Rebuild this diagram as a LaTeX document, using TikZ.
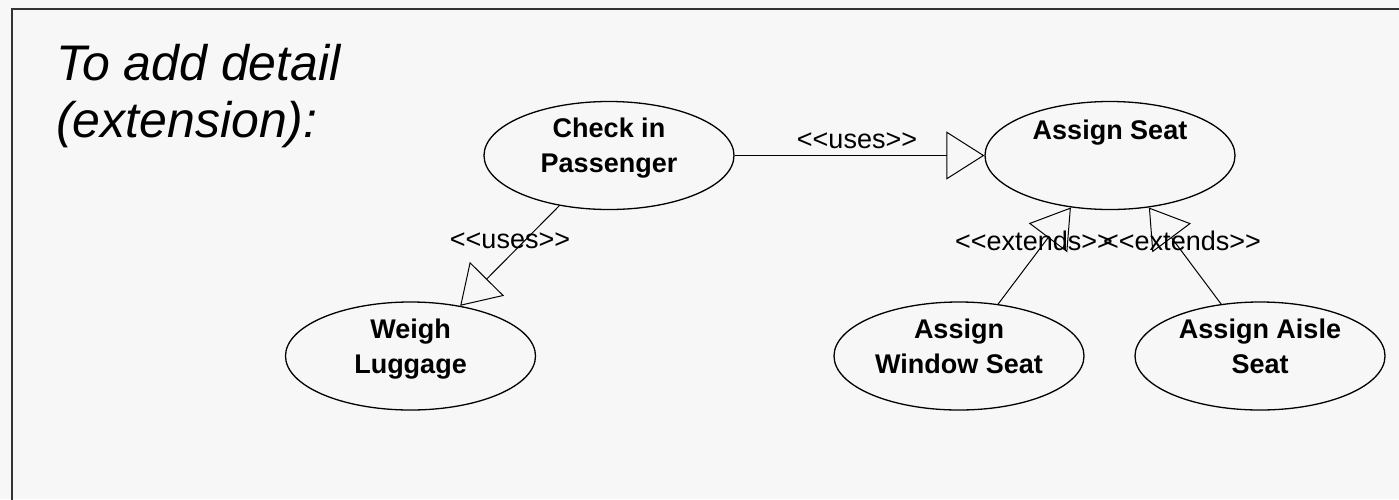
\documentclass[tikz,border=0pt]{standalone}
\usepackage{fontspec}
\setmainfont{Liberation Sans}
\usetikzlibrary{arrows.meta,shapes.geometric}
\definecolor{paper}{HTML}{F7F7F7}
\definecolor{framegray}{HTML}{333333}
\tikzset{
  usecase/.style={draw=black, line width=1.3pt, ellipse, minimum width=250pt,
    minimum height=108pt, inner sep=0pt},
  casetext/.style={font=\bfseries\fontsize{27}{35}\selectfont, align=center,
    anchor=base, inner sep=0pt},
  stereo/.style={font=\fontsize{27}{30}\selectfont, anchor=base, inner sep=0pt},
  rel/.style={line width=1pt, -{Triangle[open,length=38pt,width=48pt,line width=1pt]}},
}
\begin{document}
\begin{tikzpicture}[x=1pt,y=-1pt]
  \useasboundingbox (0,0) rectangle (1399,499);
  \clip (0,0) rectangle (1399,499);
  \fill[paper] (0,0) rectangle (1399,499);
  \draw[framegray, line width=2pt] (12,9) rectangle (1420,520);

  % heading (base anchor sits on the last line)
  \node[anchor=base west, inner sep=0pt, align=left,
        font=\itshape\fontsize{50}{57}\selectfont] (head) at (56,137)
        {To add detail\\ (extension):};

  % use cases
  \node[usecase] (chk)   at (609,155.5) {};
  \node[usecase] (seat)  at (1110,155.5) {};
  \node[usecase] (weigh) at (410.5,356) {};
  \node[usecase] (win)   at (959,356) {};
  \node[usecase] (aisle) at (1260,356) {};

  % case names: base anchor is the baseline of the last line
  \node[casetext] (chk-t)   at ([yshift=-17pt]chk.center)   {Check in\\Passenger};
  \node[casetext] (seat-t)  at ([yshift=16pt]seat.center)   {Assign Seat};
  \node[casetext] (weigh-t) at ([yshift=-17pt]weigh.center) {Weigh\\Luggage};
  \node[casetext] (win-t)   at ([yshift=-17pt]win.center)   {Assign\\Window Seat};
  \node[casetext] (aisle-t) at ([yshift=-17pt]aisle.center) {Assign Aisle\\Seat};

  % relationships
  \draw[rel] (chk) -- (seat);
  \draw[rel] (chk) -- (weigh);
  \draw[rel] (win) -- (seat);
  \draw[rel] (aisle) -- (seat);

  % stereotypes
  \node[stereo] (uses-a) at (857,148)  {<{}<uses>{}>};
  \node[stereo] (uses-b) at (510,248)  {<{}<uses>{}>};
  \node[stereo] (ext-a)  at (1034,250) {<{}<extends>{}>};
  \node[stereo] (ext-b)  at (1182,250) {<{}<extends>{}>};
\end{tikzpicture}
\end{document}
